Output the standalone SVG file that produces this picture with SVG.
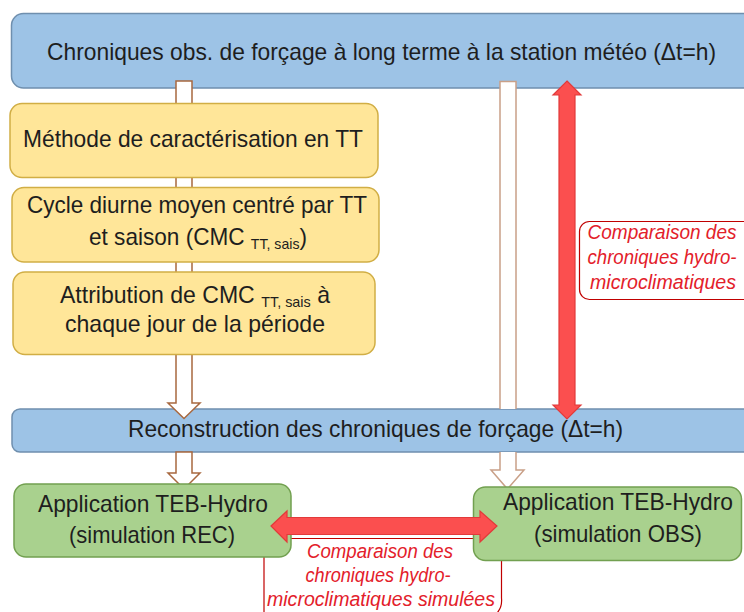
<svg xmlns="http://www.w3.org/2000/svg" width="744" height="612" viewBox="0 0 744 612">
<style>
.blue{fill:#9DC3E6;stroke:#6F8FAE;stroke-width:1.5}
.yel{fill:#FFE699;stroke:#D1AE45;stroke-width:1.5}
.grn{fill:#A9D18E;stroke:#72A050;stroke-width:1.5}
.t{font-family:"Liberation Sans",Arial,sans-serif;font-size:24px;fill:#1E1E1E;text-anchor:middle}
.sub{font-size:15px}
.lbl{fill:#fff;stroke:#C00000;stroke-width:1.2}
.rt{font-family:"Liberation Sans",Arial,sans-serif;font-style:italic;font-size:19.5px;fill:#E3202A;text-anchor:middle}
.wa{fill:#fff;stroke:#A8683F;stroke-width:1.5;stroke-linejoin:miter}
.wb{fill:#fff;stroke:#C9A088;stroke-width:1.5}
.ra{fill:#FB4F4F;stroke:#E23A3A;stroke-width:1.2;stroke-linejoin:miter}
</style>
<rect width="744" height="612" fill="#fff"/>

<g id="top">
<rect class="blue" x="11.5" y="13.5" width="745" height="74.5" rx="12"/>
<text class="t" x="381.5" y="60" textLength="669" lengthAdjust="spacingAndGlyphs">Chroniques obs. de forçage à long terme à la station météo (Δt=h)</text>
</g>

<g id="recon">
<rect class="blue" x="12" y="409" width="745" height="43" rx="8"/>
<text class="t" x="375.5" y="437" textLength="495" lengthAdjust="spacingAndGlyphs">Reconstruction des chroniques de forçage (Δt=h)</text>
</g>

<g id="label-right">
<rect class="lbl" x="579.5" y="221.5" width="180" height="78" rx="10"/>
<text class="rt" x="662" y="238.5" textLength="149" lengthAdjust="spacingAndGlyphs">Comparaison des</text>
<text class="rt" x="662" y="263.5" textLength="149" lengthAdjust="spacingAndGlyphs">chroniques hydro-</text>
<text class="rt" x="663" y="288.5" textLength="146" lengthAdjust="spacingAndGlyphs">microclimatiques</text>
</g>

<g id="label-bottom">
<path class="lbl" d="M264,614 V538.5 H501.5 V598 Q502.5,608 496,614"/>
<text class="rt" x="380" y="557.5" textLength="146" lengthAdjust="spacingAndGlyphs">Comparaison des</text>
<text class="rt" x="378" y="581.5" textLength="145" lengthAdjust="spacingAndGlyphs">chroniques hydro-</text>
<text class="rt" x="381" y="606" textLength="228" lengthAdjust="spacingAndGlyphs">microclimatiques simulées</text>
</g>

<g id="connectors">
<path class="wa" d="M176,81 H192 V403 H200 L184,418.5 L168,403 H176 Z"/>
<path class="wa" d="M176,452 H192 V473 H200 L184,489 L168,473 H176 Z"/>
<path class="wb" d="M500,409 V81.5 H516 V409"/>
<path class="wb" d="M500,452 V470 H491 L507.5,489 L524,470 H516 V452"/>
<path class="ra" d="M567,81 L581,95 H575 V405 H581 L567,419 L553,405 H559 V95 H553 Z"/>
</g>

<g id="app-rec">
<rect class="grn" x="14" y="484" width="277" height="73" rx="12"/>
<text class="t" x="153" y="512" textLength="230" lengthAdjust="spacingAndGlyphs">Application TEB-Hydro</text>
<text class="t" x="152" y="543" textLength="166" lengthAdjust="spacingAndGlyphs">(simulation REC)</text>
</g>

<g id="app-obs">
<rect class="grn" x="473.5" y="487" width="268" height="73.5" rx="12"/>
<text class="t" x="618" y="510" textLength="230" lengthAdjust="spacingAndGlyphs">Application TEB-Hydro</text>
<text class="t" x="618" y="542" textLength="168" lengthAdjust="spacingAndGlyphs">(simulation OBS)</text>
</g>

<g id="compare-sim">
<path class="ra" d="M271,526 L287,511 V517.5 H480 V511 L497,526 L480,542 V534.5 H287 V542 Z"/>
</g>

<g id="methode">
<rect class="yel" x="10" y="103.5" width="368" height="74" rx="12"/>
<text class="t" x="193" y="147" textLength="340" lengthAdjust="spacingAndGlyphs">Méthode de caractérisation en TT</text>
</g>

<g id="cycle">
<rect class="yel" x="12" y="187.5" width="367" height="74.5" rx="12"/>
<text class="t" x="197" y="213" textLength="340" lengthAdjust="spacingAndGlyphs">Cycle diurne moyen centré par TT</text>
<text class="t" x="198" y="245" textLength="218" lengthAdjust="spacingAndGlyphs">et saison (CMC <tspan class="sub" dy="4">TT, sais</tspan><tspan dy="-4">)</tspan></text>
</g>

<g id="attribution">
<rect class="yel" x="13" y="272" width="362" height="82.5" rx="12"/>
<text class="t" x="195" y="303" textLength="270" lengthAdjust="spacingAndGlyphs">Attribution de CMC <tspan class="sub" dy="4">TT, sais</tspan><tspan dy="-4"> à</tspan></text>
<text class="t" x="195" y="332" textLength="260" lengthAdjust="spacingAndGlyphs">chaque jour de la période</text>
</g>
</svg>
